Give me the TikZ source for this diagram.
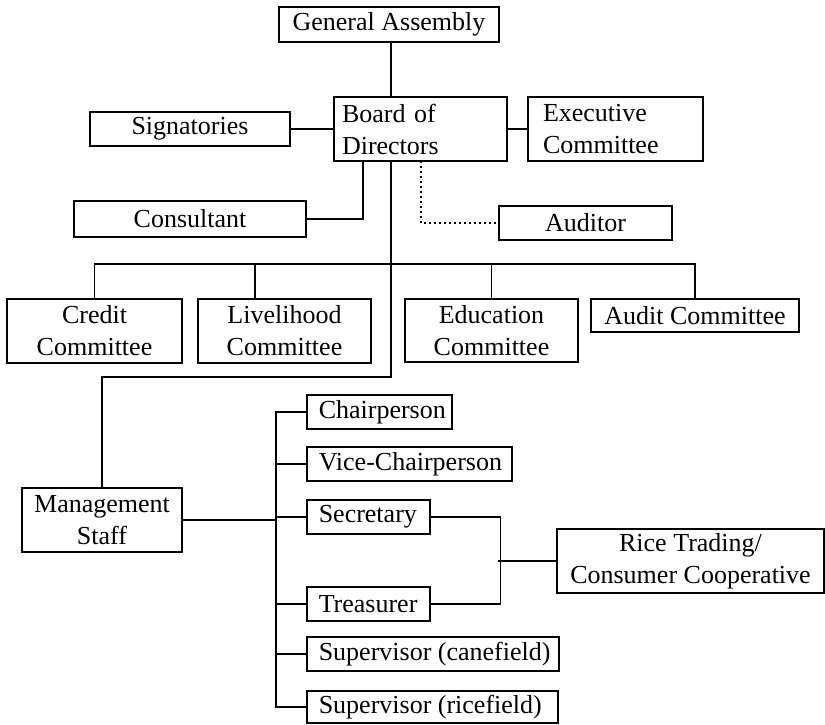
\documentclass[tikz,border=0pt]{standalone}
\usepackage{fontspec}
\setmainfont{Liberation Serif}
\usetikzlibrary{positioning, calc}

\begin{document}
\begin{tikzpicture}[
  x=1pt, y=-1pt,
  every node/.style={font=\fontsize{26}{32}\selectfont},
  orgbox/.style n args={2}{
    rectangle, draw, line width=1.5pt, inner sep=0pt,
    minimum width=#1pt, minimum height=#2pt, align=center
  },
  leftbox/.style n args={3}{
    orgbox={#1}{#2}, text width=#3pt, align=left
  },
  staffbox/.style={
    rectangle, draw, line width=1.5pt, inner xsep=12pt, inner ysep=0pt,
    minimum height=34pt, anchor=west,
    execute at begin node={\hbox to #1pt\bgroup},
    execute at end node={\hss\egroup}
  },
  link/.style={line width=1.5pt},
]
\useasboundingbox (0,0) rectangle (825,724);

% === TOP ===
\node[orgbox={220}{35}] (ga) at (389,24.5) {General Assembly};
\node[leftbox={173}{64}{157}] (board) at (420.5,129) {Board of\\Directors};
\node[orgbox={200}{34}] (sign) at (190,129) {Signatories};
\node[leftbox={175}{64}{145}] (exec) at (615.5,129) {Executive\\Committee};
\node[orgbox={232}{36}] (cons) at (190,219) {Consultant};
\node[orgbox={173}{34}] (aud) at (585.5,223) {Auditor};

% === COMMITTEES ===
\node[orgbox={175}{64}] (credit) at (94.5,331) {Credit\\Committee};
\node[orgbox={173}{64}] (livel) at (284.5,331) {Livelihood\\Committee};
\node[orgbox={173}{63}] (educ) at (491.5,330.5) {Education\\Committee};
\node[orgbox={208}{33}] (auditc) at (695,315.5) {Audit Committee};

% === STAFF ===
\node[orgbox={160}{64}] (mgmt) at (102,520) {Management\\Staff};
\node[staffbox=121] (chair) at (306,412) {Chairperson};
\node[staffbox=181] (vice) at (306,464) {Vice-Chairperson};
\node[staffbox=99] (sec) at (306,517) {Secretary};
\node[staffbox=99] (treas) at (306,604) {Treasurer};
\node[staffbox=228] (supc) at (306,654) {Supervisor (canefield)};
\node[staffbox=227, minimum height=32pt] (supr) at (306,707) {Supervisor (ricefield)};
\node[orgbox={267}{64}] (rice) at (690.5,561) {Rice Trading/\\Consumer Cooperative};

% === CONNECTORS ===
\coordinate (trunk) at (391,377);
\coordinate (combus) at (0,264);
\coordinate (constap) at (363,161);
\coordinate (audtap) at (421,161);

\draw[link] (ga.south -| trunk) -- (board.north -| trunk);
\draw[link] (sign.east) -- (board.west);
\draw[link] (board.east) -- (exec.west);
\draw[link] (constap) |- (cons.east);
\draw[link, dash pattern=on 2pt off 3pt] (audtap) |- (aud.west);
\draw[link] (board.south -| trunk) -- (trunk) -| (mgmt.north);

\draw[link] (credit.north) -- (credit.north |- combus) -- (auditc.north |- combus) -- (auditc.north);
\draw[link] ([xshift=-29.5pt]livel.north) -- ++(0,-35);
\draw[link] (educ.north) -- (educ.north |- combus);

\draw[link] (chair.west) -- ++(-30,0) |- (supr.west);
\foreach \n in {vice,sec,treas,supc}
  \draw[link] (\n.west) -- ++(-30,0);
\draw[link] (mgmt.east) -- ++(94,0);

\draw[link] (sec.east) -- ++(70,0) |- (treas.east);
\draw[link] (rice.west) -- ++(-58,0);

\end{tikzpicture}
\end{document}
